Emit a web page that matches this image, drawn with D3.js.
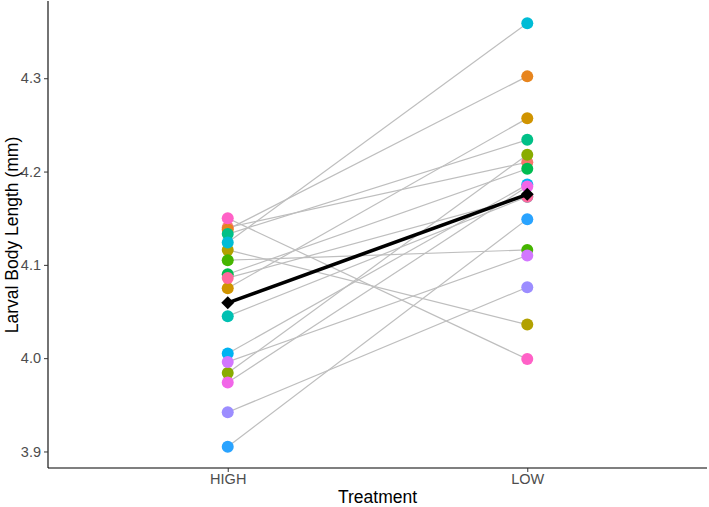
<!DOCTYPE html>
<html>
<head>
<meta charset="utf-8">
<script src="https://cdn.jsdelivr.net/npm/d3@7"></script>
<style>
  html, body { margin: 0; padding: 0; background: #fff; }
  svg { display: block; font-family: "Liberation Sans", Arial, sans-serif; }
</style>
</head>
<body>
<svg id="chart" width="709" height="507"></svg>
<script>
// ---- data ----
const treatments = ["HIGH", "LOW"];
const individuals = ["1","2","3","4","5","6","7","8","9","10","11","12","13","14","15","16","17"];
const highValues = [4.140, 4.138, 4.075, 4.116, 3.984, 4.105, 4.090, 4.133, 4.045, 4.124, 4.005, 3.905, 3.942, 3.996, 3.974, 4.150, 4.086];
const lowValues  = [4.210, 4.302, 4.257, 4.036, 4.218, 4.116, 4.203, 4.234, 4.173, 4.359, 4.186, 4.149, 4.076, 4.110, 4.184, 3.999, 4.173];
const yTicks = [3.9, 4.0, 4.1, 4.2, 4.3];

// ggplot2-like hue palette (polar LUV)
function hcl2hex(h, c, l) {
  const XN = 95.047, YN = 100.0, ZN = 108.883;
  const hr = h * Math.PI / 180;
  const U = c * Math.cos(hr), V = c * Math.sin(hr);
  let Y = YN * (l > 7.999592 ? Math.pow((l + 16) / 116, 3) : l / 903.3);
  const t = XN + YN + ZN, x = XN / t, y = YN / t;
  const uN = 2 * x / (6 * y - x + 1.5), vN = 4.5 * y / (6 * y - x + 1.5);
  const u = U / (13 * l) + uN, v = V / (13 * l) + vN;
  const X = 9.0 * Y * u / (4 * v);
  const Z = -X / 3 - 5 * Y + 3 * Y / v;
  const g = q => q > 0.00304 ? 1.055 * Math.pow(q, 1 / 2.4) - 0.055 : 12.92 * q;
  const cl = q => Math.max(0, Math.min(1, q));
  const R = cl(g((3.240479 * X - 1.537150 * Y - 0.498535 * Z) / YN));
  const G = cl(g((-0.969256 * X + 1.875992 * Y + 0.041556 * Z) / YN));
  const B = cl(g((0.055648 * X - 0.204043 * Y + 1.057311 * Z) / YN));
  return d3.rgb(R * 255, G * 255, B * 255).formatHex();
}
function huePal(n) {
  const out = [];
  const end = 375 - 360 / n;
  for (let i = 0; i < n; i++) {
    const h = n === 1 ? 15 : 15 + (end - 15) * i / (n - 1);
    out.push(hcl2hex(h % 360, 100, 65));
  }
  return out;
}
const colors = huePal(individuals.length);

// ---- layout ----
const svg = d3.select("#chart");
const mLeft = 48, mRight = 707, mTop = 2, mBottom = 468;

// discrete positions 1,2 with 0.6 expansion either side
const xLin = d3.scaleLinear().domain([0.4, 2.6]).range([mLeft, mRight]);
const xPos = t => xLin(treatments.indexOf(t) + 1);

const allVals = highValues.concat(lowValues);
const vmin = d3.min(allVals), vmax = d3.max(allVals);
const pad = (vmax - vmin) * 0.05;
const y = d3.scaleLinear().domain([vmin - pad, vmax + pad]).range([mBottom, mTop]);

// ---- paired lines ----
const pairs = individuals.map((id, i) => ({ id, high: highValues[i], low: lowValues[i], color: colors[i] }));
svg.append("g").selectAll("line").data(pairs).join("line")
  .attr("x1", xPos("HIGH")).attr("y1", d => y(d.high))
  .attr("x2", xPos("LOW")).attr("y2", d => y(d.low))
  .attr("stroke", "#BEBEBE").attr("stroke-width", 1.2);

// ---- points ----
const pts = [];
pairs.forEach(d => pts.push({ t: "HIGH", v: d.high, color: d.color }));
pairs.forEach(d => pts.push({ t: "LOW", v: d.low, color: d.color }));
svg.append("g").selectAll("circle").data(pts).join("circle")
  .attr("cx", d => xPos(d.t)).attr("cy", d => y(d.v))
  .attr("r", 6).attr("fill", d => d.color);

// ---- mean line ----
const means = [{ t: "HIGH", v: d3.mean(highValues) }, { t: "LOW", v: d3.mean(lowValues) }];
svg.append("path").datum(means)
  .attr("d", d3.line().x(d => xPos(d.t)).y(d => y(d.v)))
  .attr("fill", "none").attr("stroke", "#000").attr("stroke-width", 3.6);
svg.append("g").selectAll("path").data(means).join("path")
  .attr("transform", d => `translate(${xPos(d.t)},${y(d.v)})`)
  .attr("d", "M0,-6.5L6.5,0L0,6.5L-6.5,0Z")
  .attr("fill", "#000");

// ---- axes ----
const yAxis = d3.axisLeft(y).tickValues(yTicks).tickFormat(d3.format(".1f")).tickSize(4).tickPadding(3);
const gy = svg.append("g").attr("transform", `translate(${mLeft},0)`).call(yAxis);
gy.select(".domain").attr("d", `M0,${mTop - 1}V${mBottom}`).attr("stroke", "#000").attr("stroke-width", 1.1);
gy.selectAll(".tick line").attr("stroke", "#333");
gy.selectAll(".tick text").attr("fill", "#4D4D4D").style("font-size", "14.5px").style("font-family", "Liberation Sans, Arial, sans-serif");

const xAxis = d3.axisBottom(xLin).tickValues([1, 2]).tickFormat(d => treatments[d - 1]).tickSize(4).tickPadding(2);
const gx = svg.append("g").attr("transform", `translate(0,${mBottom})`).call(xAxis);
gx.select(".domain").attr("d", `M${mLeft},0H${mRight}`).attr("stroke", "#000").attr("stroke-width", 1.1);
gx.selectAll(".tick line").attr("stroke", "#333");
gx.selectAll(".tick text").attr("fill", "#4D4D4D").style("font-size", "14.5px").style("font-family", "Liberation Sans, Arial, sans-serif");

// ---- titles ----
svg.append("text")
  .attr("x", (mLeft + mRight) / 2).attr("y", 503)
  .attr("text-anchor", "middle").style("font-size", "17.5px").attr("fill", "#000")
  .text("Treatment");
svg.append("text")
  .attr("transform", `translate(18,${(mTop + mBottom) / 2}) rotate(-90)`)
  .attr("text-anchor", "middle").style("font-size", "17.5px").attr("fill", "#000")
  .text("Larval Body Length (mm)");
</script>
</body>
</html>
